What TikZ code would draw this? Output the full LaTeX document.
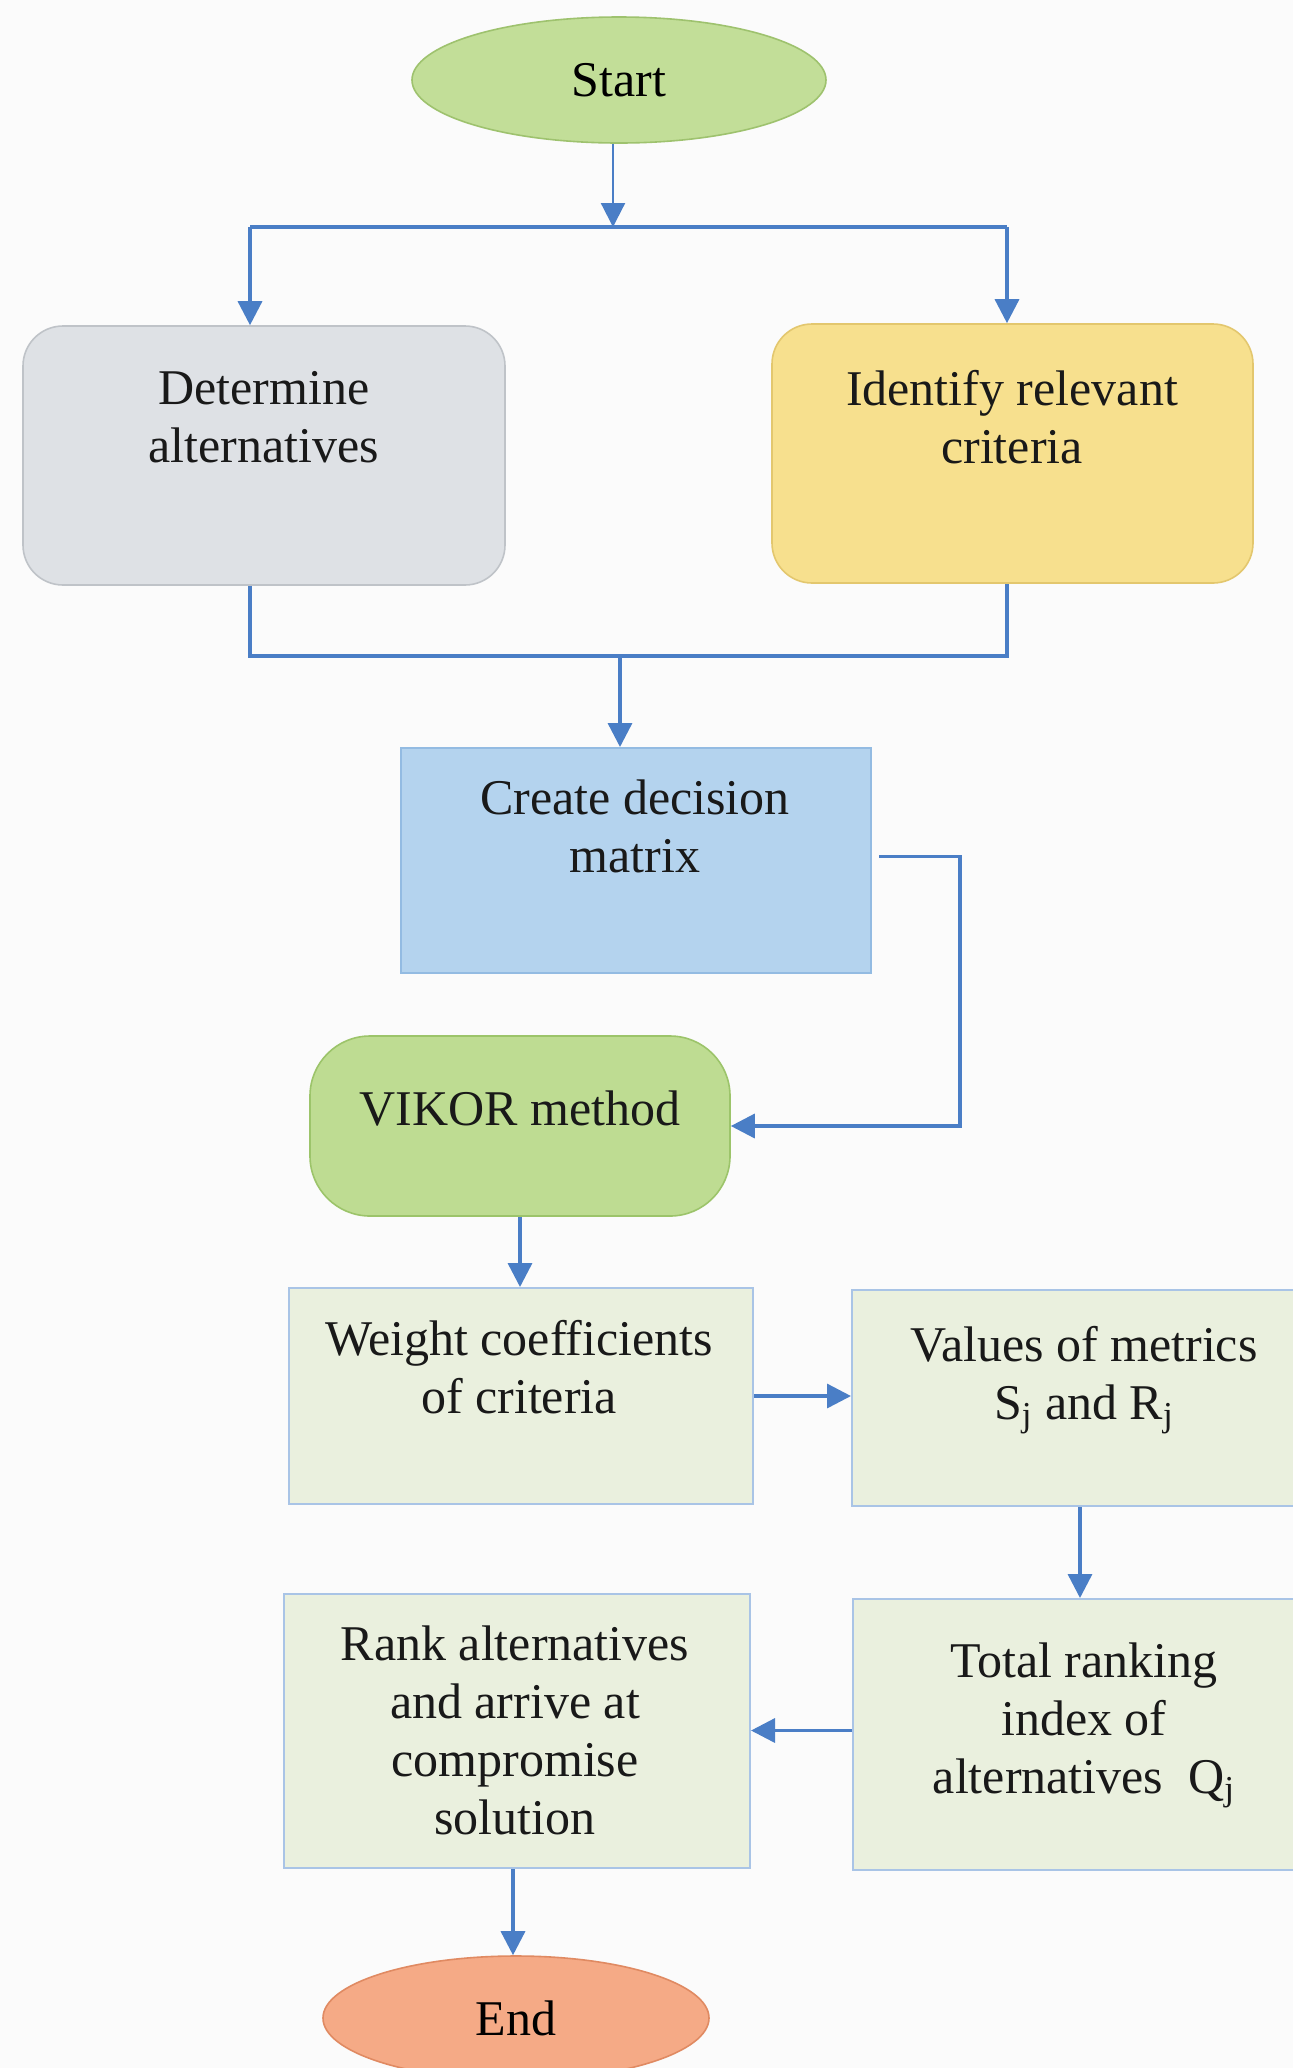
\documentclass[tikz,border=0pt]{standalone}
\usepackage{fontspec}
\setmainfont{Liberation Serif}
\usetikzlibrary{arrows.meta,shapes.geometric}
\definecolor{bgcol}{HTML}{FBFBFB}
\definecolor{arrowblue}{HTML}{4A7EC6}
\definecolor{startfill}{HTML}{C2DE98}
\definecolor{startline}{HTML}{9EC26E}
\definecolor{detfill}{HTML}{DEE1E5}
\definecolor{detline}{HTML}{BFC3C8}
\definecolor{idefill}{HTML}{F7E08E}
\definecolor{ideline}{HTML}{E3C76E}
\definecolor{createfill}{HTML}{B4D3EE}
\definecolor{createline}{HTML}{93BBE2}
\definecolor{vikorfill}{HTML}{BEDC92}
\definecolor{vikorline}{HTML}{9CC46A}
\definecolor{lightfill}{HTML}{EAF0DE}
\definecolor{lightline}{HTML}{A9C4E6}
\definecolor{endfill}{HTML}{F5AA86}
\definecolor{endline}{HTML}{E08A62}
\begin{document}
\begin{tikzpicture}[x=0.5pt,y=-0.5pt,
  arr/.style={draw=arrowblue,line width=1.7pt,-{Triangle[width=12pt,length=12pt]}},
  conn/.style={draw=arrowblue,line width=1.7pt},
  txt/.style={font=\fontsize{25}{29}\selectfont,align=center,inner sep=0pt,text=black!90},
  lightbox/.style={draw=lightline,line width=1pt,fill=lightfill,inner sep=0pt,minimum width=232pt,minimum height=108pt},
  term/.style={ellipse,line width=0.8pt,inner sep=0pt,minimum width=207pt,minimum height=63pt,font=\fontsize{25}{29}\selectfont}]
\fill[bgcol] (0,0) rectangle (1293,2068);
\useasboundingbox (0,0) rectangle (1293,2068);
\clip (0,0) rectangle (1293,2068);

% nodes
\node[term,draw=startline,fill=startfill] (start) at (619,80) {Start};
\node[draw=detline,fill=detfill,line width=0.8pt,rounded corners=20pt,minimum width=241pt,minimum height=129.5pt,inner sep=0pt] (det) at (264,455.5) {};
\node[txt] (tdet) at (264,417) {Determine\\alternatives};
\node[draw=ideline,fill=idefill,line width=0.8pt,rounded corners=20pt,minimum width=240.5pt,minimum height=129.5pt,inner sep=0pt] (ide) at (1012.5,453.5) {};
\node[txt] (tide) at (1012,417) {Identify relevant\\criteria};
\node[draw=createline,fill=createfill,line width=1pt,minimum width=235pt,minimum height=112.5pt,inner sep=0pt] (create) at (636,860.5) {};
\node[txt] (tcreate) at (635,826) {Create decision\\matrix};
\node[draw=vikorline,fill=vikorfill,line width=0.8pt,rounded corners=30pt,minimum width=210pt,minimum height=90pt,inner sep=0pt] (vikor) at (520,1126) {};
\node[txt] (tvikor) at (520,1109) {VIKOR method};
\node[lightbox] (weight) at (521,1396) {};
\node[txt] (tweight) at (519,1367) {Weight coefficients\\of criteria};
\node[lightbox] (values) at (1084,1398) {};
\node[txt] (tvalues) at (1084,1380) {Values of metrics\\S\textsubscript{j} and R\textsubscript{j}};
\node[lightbox,minimum height=135.5pt] (total) at (1084.5,1734.5) {};
\node[txt,text depth=0pt] (ttotal) at (1084,1718) {Total ranking\\index of\\alternatives~ Q\textsubscript{j}};
\node[lightbox,minimum width=233pt,minimum height=137pt] (rank) at (517,1731) {};
\node[txt] (trank) at (515,1730) {Rank alternatives\\and arrive at\\compromise\\solution};
\node[term,draw=endline,fill=endfill,minimum width=193pt,minimum height=62pt] (end) at (516,2018) {End};

% connectors
\coordinate (split) at (613,227);
\coordinate (sl) at (250,227);
\coordinate (sr) at (1007,227);
\draw[arr,line width=1.1pt] (split |- start.south) -- (split);
\draw[conn] (sl) -- (sr);
\draw[arr] (sl) -- (sl |- det.north);
\draw[arr] (sr) -- (sr |- ide.north);
\coordinate (ml) at (250,656);
\coordinate (mr) at (1007,656);
\coordinate (mc) at (620,656);
\draw[conn] (ml |- det.south) -- (ml) -- (mr) -- (mr |- ide.south);
\draw[arr] (mc) -- (mc |- create.north);
\coordinate (bend) at (960,1126);
\draw[arr] ([xshift=3.5pt,yshift=2pt]create.east) -| (bend) -- (vikor.east);
\draw[arr] (vikor.south) -- (vikor.south |- weight.north);
\draw[arr] (weight.east) -- (weight.east -| values.west);
\draw[arr] ([xshift=-2pt]values.south) -- ([xshift=-2pt]values.south |- total.north);
\draw[arr] ([yshift=2pt]total.west) -- ([yshift=2pt]total.west -| rank.east);
\draw[arr] ([xshift=-2pt]rank.south) -- ([xshift=-2pt]rank.south |- end.north);
\end{tikzpicture}
\end{document}
